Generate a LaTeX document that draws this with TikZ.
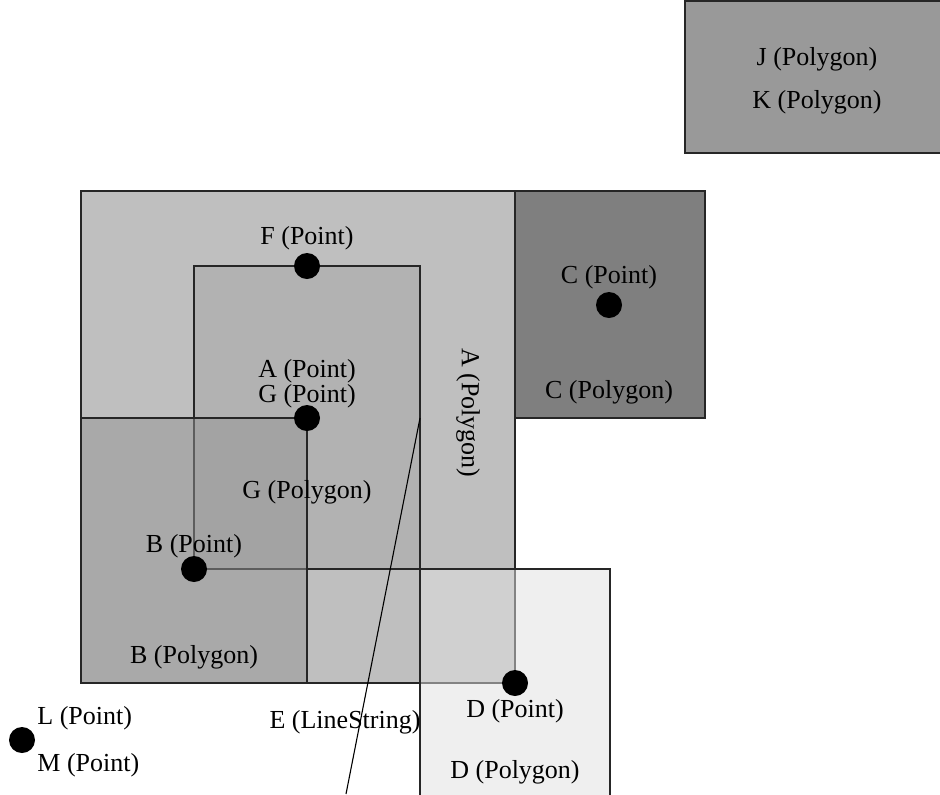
\documentclass[tikz,border=0pt]{standalone}
\usepackage{fontspec}
\setmainfont{Liberation Serif}
\usetikzlibrary{positioning}

\begin{document}
\begin{tikzpicture}[x=0.5pt, y=-0.5pt, font=\fontsize{13}{15}\selectfont,
  poly/.style={draw=black!85, line width=0.55pt, fill opacity=0.5},
  pt/.style={circle, fill=black, inner sep=0pt, minimum size=13pt},
  lbl/.style={inner sep=1pt, yshift=-1pt}]

\useasboundingbox (0,0) rectangle (940,794);

% polygons
\draw[poly, fill=black!50] (81,191) rectangle (515,683);
\draw[poly, fill=black!35] (194,266) rectangle (420,569);
\draw[poly, fill=black!42] (81,418) rectangle (307,683);
\draw[poly, fill=black]    (515,191) rectangle (705,418);
\draw[poly, fill=black!12] (420,569) rectangle (610,810);
\draw[poly, fill=black!53] (685,1) rectangle (950,153);
\draw[poly, fill=black!53] (685,1) rectangle (950,153);

% linestring
\coordinate (e1) at (420,418);
\coordinate (e2) at (346,794);
\draw[line width=0.55pt] (e1) -- (e2);

% points
\node[pt] (ptF)  at (307,266) {};
\node[pt] (ptAG) at (307,418) {};
\node[pt] (ptC)  at (609,305) {};
\node[pt] (ptB)  at (194,569) {};
\node[pt] (ptD)  at (515,683) {};
\node[pt] (ptLM) at (22,740)  {};

% labels
\node[lbl] (lJ) at (817,57)  {J (Polygon)};
\node[lbl] (lK) at (817,100) {K (Polygon)};
\node[lbl] (lF) at (307,236) {F (Point)};
\node[lbl] (lCp) at (609,275) {C (Point)};
\node[lbl] (lA) at (307,369) {A (Point)};
\node[lbl] (lG) at (307,394) {G (Point)};
\node[lbl] (lC) at (609,390) {C (Polygon)};
\node[inner sep=1pt, rotate=-90] (lApoly) at (468,413) {A (Polygon)};
\node[lbl] (lGpoly) at (307,490) {G (Polygon)};
\node[lbl] (lB) at (194,544) {B (Point)};
\node[lbl] (lBpoly) at (194,655) {B (Polygon)};
\node[lbl] (lD) at (515,709) {D (Point)};
\node[lbl] (lDpoly) at (515,770) {D (Polygon)};
\node[lbl, anchor=west] (lL) at (35,716) {L (Point)};
\node[lbl, anchor=west] (lM) at (35,763) {M (Point)};
\node[lbl] (lE) at (345,720) {E (LineString)};
\end{tikzpicture}
\end{document}
